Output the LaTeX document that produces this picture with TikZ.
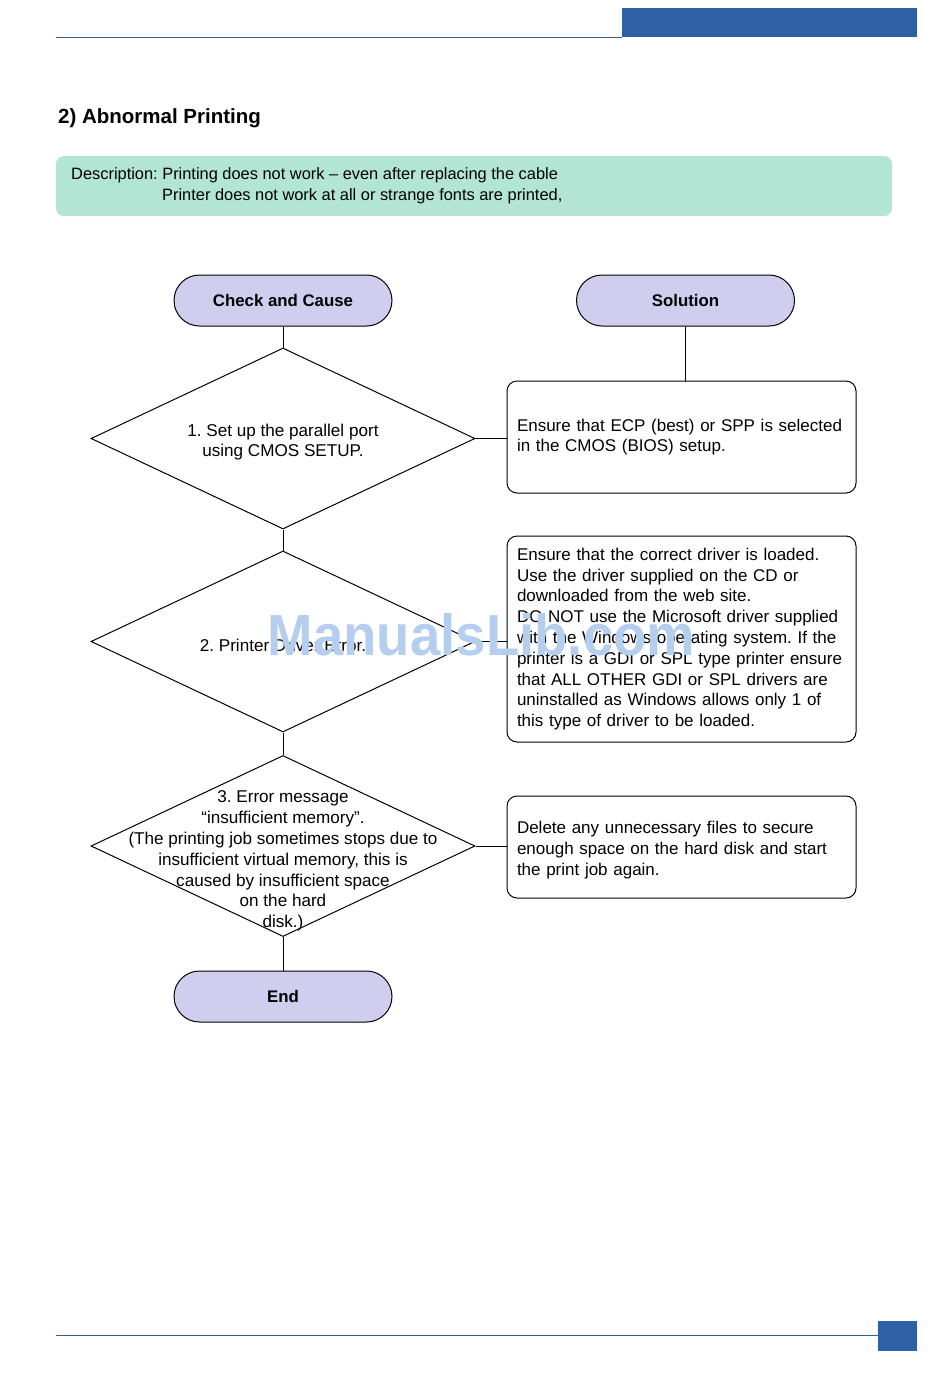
\documentclass[tikz,border=0pt]{standalone}
\usepackage{fontspec}
\setmainfont{Liberation Sans}
\usetikzlibrary{shapes.geometric,shapes.misc}
\definecolor{hdrblue}{HTML}{2F5FA5}
\definecolor{linblue}{HTML}{3B5C8C}
\definecolor{mint}{HTML}{B2E5D4}
\definecolor{lav}{HTML}{D0CDEF}
\definecolor{wm}{HTML}{B5CEF0}
\begin{document}
\frenchspacing
\begin{tikzpicture}[x=1pt,y=-1pt,
 pill/.style={rounded rectangle, draw, fill=lav, line width=1, minimum width=218, minimum height=51, inner sep=0, font=\fontsize{16.8}{19}\selectfont\bfseries},
 dia/.style={diamond, draw, line width=1, minimum width=384, minimum height=181, inner sep=0},
 diatext/.style={align=center, inner sep=0, font=\fontsize{17.1}{20.8}\selectfont},
 sol/.style={draw, rounded corners=10, line width=1, text width=329, inner xsep=10, inner ysep=0, minimum width=349, align=left, font=\fontsize{17}{20.8}\selectfont},
 conn/.style={line width=1}]
\useasboundingbox (0,0) rectangle (950,1379);
% header / footer
\fill[hdrblue] (622,8) rectangle (917,37);
\draw[linblue, line width=1] (56,37) -- (622,37);
\draw[linblue, line width=1] (56,1335) -- (878,1335);
\fill[hdrblue] (878,1321) rectangle (917,1351);
% title
\node[anchor=base west, inner sep=0, font=\fontsize{20.5}{23}\selectfont\bfseries] (title) at (58,123) {2) Abnormal Printing};
% description
\fill[mint, rounded corners=8] (56,156) rectangle (892,216);
\node[anchor=base west, inner sep=0, font=\fontsize{16.4}{20}\selectfont] (desc1) at (71,179) {Description: Printing does not work -- even after replacing the cable};
\node[anchor=base west, inner sep=0, font=\fontsize{16.4}{20}\selectfont] (desc2) at (162,200) {Printer does not work at all or strange fonts are printed,};
% headers
\node[pill] (check) at (283,300.5) {Check and Cause};
\node[pill] (solution) at (685.5,300.5) {Solution};
% diamonds
\node[dia] (d1) at (283,438.5) {};
\node[dia] (d2) at (283,641.5) {};
\node[dia] (d3) at (283,846) {};
\node[diatext] (t1) at (283,442) {1. Set up the parallel port\\using CMOS SETUP.};
\node[diatext] (t2) at (283,645) {2. Printer Driver Error.};
\node[diatext] (t3) at (283,861) {3. Error message\\“insufficient memory”.\\(The printing job sometimes stops due to\\insufficient virtual memory, this is\\caused by insufficient space\\on the hard\\disk.)};
% solution boxes
\node[sol, minimum height=112] (b1) at (681.5,437) {Ensure that ECP (best) or SPP is selected\\in the CMOS (BIOS) setup.};
\node[sol, minimum height=206] (b2) at (681.5,639) {Ensure that the correct driver is loaded.\\Use the driver supplied on the CD or\\downloaded from the web site.\\DO NOT use the Microsoft driver supplied\\with the Windows operating system. If the\\printer is a GDI or SPL type printer ensure\\that ALL OTHER GDI or SPL drivers are\\uninstalled as Windows allows only 1 of\\this type of driver to be loaded.};
\node[sol, minimum height=102] (b3) at (681.5,847) {\strut\\[-17pt]Delete any unnecessary files to secure\\enough space on the hard disk and start\\the print job again.};
\node[pill] (end) at (283,996.5) {End};
% connectors
\draw[conn] (check.south) -- (d1.north);
\draw[conn] (solution.south) -- (solution.south |- b1.north);
\draw[conn] (d1.east) -- (d1.east -| b1.west);
\draw[conn] (d1.south) -- (d2.north);
\draw[conn] (d2.east) -- (d2.east -| b2.west);
\draw[conn] (d2.south) -- (d3.north);
\draw[conn] (d3.east) -- (d3.east -| b3.west);
\draw[conn] (d3.south) -- (end.north);
% watermark
\node[text=wm, inner sep=0, xscale=0.94, font=\fontsize{58}{60}\selectfont\bfseries] (wmark) at (481.5,635) {ManualsLib.com};
\end{tikzpicture}
\end{document}
